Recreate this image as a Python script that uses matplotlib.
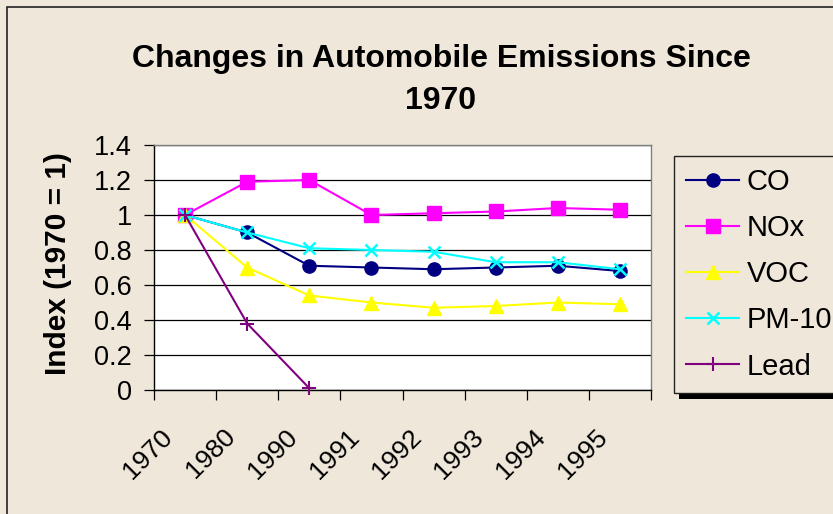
import matplotlib
matplotlib.use("Agg")
import matplotlib.pyplot as plt
import matplotlib.transforms as mtransforms
from matplotlib.patches import Rectangle
import numpy as np

plt.rcParams['font.family'] = ['Liberation Sans', 'DejaVu Sans']

years = ["1970", "1980", "1990", "1991", "1992", "1993", "1994", "1995"]
co = [1.0, 0.90, 0.71, 0.70, 0.69, 0.70, 0.71, 0.68]
nox = [1.0, 1.19, 1.20, 1.00, 1.01, 1.02, 1.04, 1.03]
voc = [1.0, 0.70, 0.54, 0.50, 0.47, 0.48, 0.50, 0.49]
pm10 = [1.0, 0.90, 0.81, 0.80, 0.79, 0.73, 0.73, 0.69]
lead = [1.0, 0.38, 0.01, np.nan, np.nan, np.nan, np.nan, np.nan]
yticks = [0, 0.2, 0.4, 0.6, 0.8, 1, 1.2, 1.4]
ytick_labels = ["0", "0.2", "0.4", "0.6", "0.8", "1", "1.2", "1.4"]

BG = "#EFE7DA"
W, H = 833, 514
fig = plt.figure(figsize=(W / 100, H / 100), dpi=100, facecolor=BG)

# outer chart border (top and left visible)
fig.patches.append(Rectangle((7 / W, -0.1), 2.0, 1 - 7 / H + 0.1, transform=fig.transFigure,
                             fill=False, edgecolor="#222222", linewidth=1.2, zorder=0))

ax = fig.add_axes([154 / W, 1 - 390 / H, (651 - 154) / W, (390 - 145) / H])
ax.set_facecolor("white")

x = np.arange(len(years))
series = [
    ("CO", co, dict(color="#000080", marker="o", markersize=9.5)),
    ("NOx", nox, dict(color="#FF00FF", marker="s", markersize=9.5)),
    ("VOC", voc, dict(color="#FFFF00", marker="^", markersize=10.5)),
    ("PM-10", pm10, dict(color="#00FFFF", marker="x", markersize=9, markeredgewidth=1.8)),
    ("Lead", lead, dict(color="#800080", marker="+", markersize=10, markeredgewidth=1.5)),
]
handles = []
for i, (name, vals, st) in enumerate(series):
    h, = ax.plot(x, vals, linewidth=1.5, label=name, zorder=3 + i, clip_on=False, **st)
    handles.append(h)

ax.set_xlim(-0.5, len(years) - 0.5)
ax.set_ylim(0, 1.4)
ax.set_yticks(yticks)
ax.set_yticklabels(ytick_labels, fontsize=19.5)
ax.yaxis.grid(True, color="black", linewidth=0.9)
ax.set_axisbelow(True)

ax.set_xticks(np.arange(-0.5, len(years), 1.0))
ax.set_xticklabels([])
ax.set_xticks(x, minor=True)
ax.set_xticklabels(years, minor=True, fontsize=19, rotation=45, ha="right",
                   va="center", rotation_mode="anchor")
ax.tick_params(axis="x", which="major", direction="out", length=7, width=0.9, color="black")
ax.tick_params(axis="x", which="minor", length=0, pad=31)
ax.tick_params(axis="y", direction="out", length=7, width=0.9, color="black", pad=9)
shift = mtransforms.ScaledTranslation(-16 / 100, 0, fig.dpi_scale_trans)
for lab in ax.get_xticklabels(minor=True):
    lab.set_transform(lab.get_transform() + shift)

for side in ["top", "right"]:
    ax.spines[side].set_color("#808080")
    ax.spines[side].set_linewidth(1.0)
for side in ["left", "bottom"]:
    ax.spines[side].set_color("black")
    ax.spines[side].set_linewidth(1.0)

fig.text(58.5 / W, 1 - 264 / H, "Index (1970 = 1)", rotation=90, fontsize=21.5,
         fontweight="bold", ha="center", va="center")

fig.text(441 / W, 1 - 67 / H, "Changes in Automobile Emissions Since", fontsize=23,
         fontweight="bold", ha="center", va="baseline")
fig.text(441 / W, 1 - 109 / H, "1970", fontsize=23, fontweight="bold",
         ha="center", va="baseline")

leg = fig.legend(handles=handles, loc="upper left", bbox_to_anchor=(674 / W, 1 - 156 / H),
                 bbox_transform=fig.transFigure, borderaxespad=0, fontsize=21,
                 frameon=True, fancybox=False, edgecolor="#222222", facecolor=BG,
                 framealpha=1, borderpad=0.42, labelspacing=0.62, handlelength=1.8,
                 handletextpad=0.27)
leg.get_frame().set_linewidth(1.0)
leg.set_zorder(5)

# legend shadow, placed from the drawn legend box
fig.canvas.draw()
bb = leg.get_frame().get_window_extent()
fig.patches.append(Rectangle((bb.x0 + 5, bb.y0 - 6), bb.width, bb.height,
                             transform=None, facecolor="black",
                             edgecolor="none", zorder=1))

fig.savefig("out.png", dpi=100, facecolor=BG)
